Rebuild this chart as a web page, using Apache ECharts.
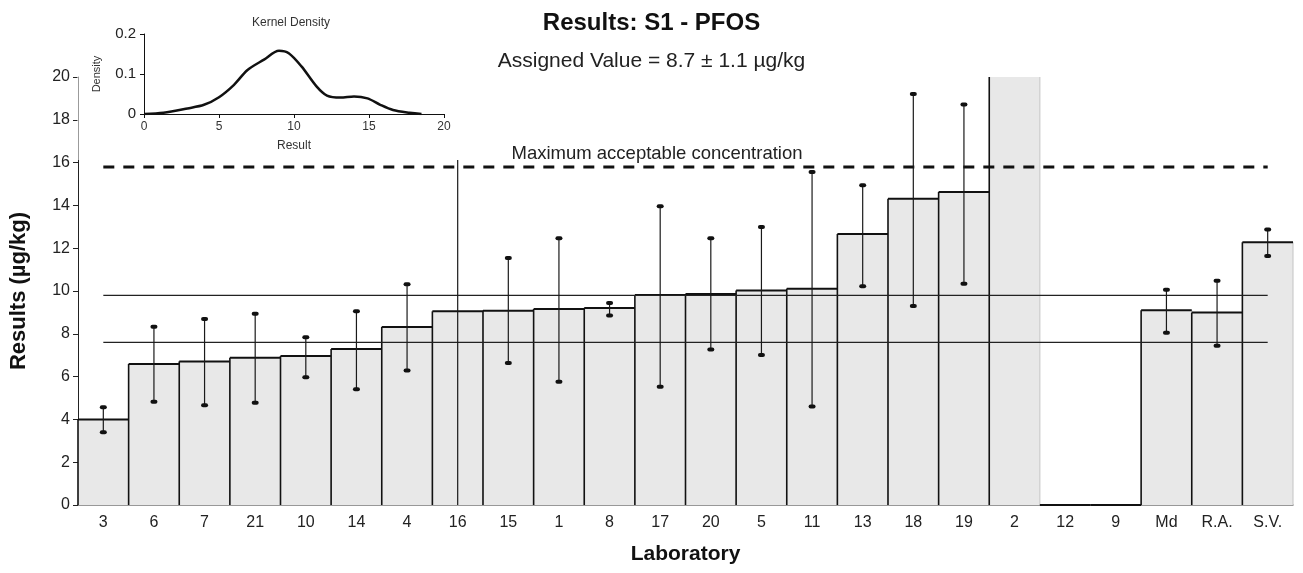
<!DOCTYPE html>
<html>
<head>
<meta charset="utf-8">
<script src="https://cdn.jsdelivr.net/npm/echarts@6/dist/echarts.min.js"></script>
<style>
  html, body { margin: 0; padding: 0; background: #ffffff; }
  #chart { width: 1303px; height: 573px; }
</style>
</head>
<body>
<div id="chart"></div>
<script>
// Laboratory codes, in the plotted order (lowest to highest result), then summary columns
const labs = ['3', '6', '7', '21', '10', '14', '4', '16', '15', '1', '8', '17', '20', '5', '11', '13', '18', '19', '2', '12', '9', 'Md', 'R.A.', 'S.V.'];

// Reported results (µg/kg); lab 2 is off scale, labs 12 and 9 reported nothing quantifiable
const results = [4.0, 6.59, 6.71, 6.88, 6.96, 7.29, 8.32, 9.05, 9.08, 9.16, 9.21, 9.81, 9.86, 10.02, 10.11, 12.66, 14.31, 14.63, 24.0, 0, 0, 9.10, 8.99, 12.28];

// Expanded uncertainty interval of each result (null = none reported)
const uncLow  = [3.40, 4.83, 4.66, 4.78, 5.97, 5.41, 6.28, -0.95, 6.64, 5.76, 8.85, 5.53, 7.27, 7.01, 4.60, 10.22, 9.30, 10.34, null, null, null, 8.05, 7.44, 11.64];
const uncHigh = [4.57, 8.33, 8.69, 8.94, 7.84, 9.05, 10.31, 19.05, 11.54, 12.46, 9.44, 13.96, 12.46, 12.99, 15.56, 14.94, 19.21, 18.72, null, null, null, 10.06, 10.48, 12.87];

// Assigned value and its uncertainty, plus the regulatory limit
const assignedValue = 8.7;
const assignedUnc = 1.1;
const maxAcceptable = 15.8;

// Main value axis range
const yMin = 0;
const yMax = 20;
const yStep = 2;

// Kernel density estimate of the results (inset)
const kdeX = [0, 1.3, 2.9, 4.0, 5.0, 6.0, 6.9, 8.0, 9.0, 9.65, 10.5, 11.5, 12.2, 13.1, 14.0, 14.9, 15.75, 16.6, 17.7, 18.5];
const kdeY = [0, 0.003, 0.014, 0.023, 0.042, 0.073, 0.110, 0.136, 0.158, 0.152, 0.119, 0.069, 0.046, 0.041, 0.044, 0.039, 0.023, 0.010, 0.003, 0];

const FONT = '"Liberation Sans", Arial, Helvetica, sans-serif';

const barData = labs.map((l, i) => [i, results[i]]);
const errData = [];
labs.forEach((l, i) => {
  if (uncLow[i] !== null && uncHigh[i] !== null) errData.push([i, uncLow[i], uncHigh[i]]);
});
const lowerLine = labs.map(() => +(assignedValue - assignedUnc).toFixed(2));
const upperLine = labs.map(() => +(assignedValue + assignedUnc).toFixed(2));
const limitLine = labs.map(() => maxAcceptable);
const kdeData = kdeX.map((x, i) => [x, kdeY[i]]);

// Adjacent bars: grey fill, black left edge and top (forming a step outline)
function renderBar(params, api) {
  const i = api.value(0);
  const raw = api.value(1);
  const clipped = raw > yMax;
  const v = Math.min(raw, yMax);
  const w = api.size([1, 0])[0];
  const base = api.coord([i, 0]);
  const top = api.coord([i, v]);
  const x0 = base[0] - w / 2;
  const x1 = base[0] + w / 2;
  const children = [
    { type: 'rect', shape: { x: x0, y: top[1], width: w, height: base[1] - top[1] },
      style: { fill: '#e8e8e8' } },
    { type: 'line', shape: { x1: x1, y1: base[1], x2: x1, y2: top[1] },
      style: { stroke: '#c4c4c4', lineWidth: 1 } },
    { type: 'line', shape: { x1: x0, y1: base[1], x2: x0, y2: top[1] },
      style: { stroke: '#111', lineWidth: 1.6 } }
  ];
  if (!clipped) {
    children.push({ type: 'line', shape: { x1: x0, y1: top[1], x2: x1, y2: top[1] },
      style: { stroke: '#111', lineWidth: 2 } });
  }
  return { type: 'group', children };
}

// Vertical uncertainty bars with small rounded caps
function renderErr(params, api) {
  const i = api.value(0);
  const lo = api.value(1);
  const hi = api.value(2);
  const p0 = api.coord([i, Math.max(lo, yMin)]);
  const p1 = api.coord([i, Math.min(hi, yMax)]);
  const children = [
    { type: 'line', shape: { x1: p0[0], y1: p0[1], x2: p1[0], y2: p1[1] },
      style: { stroke: '#1a1a1a', lineWidth: 1.2 } }
  ];
  const cap = (p) => ({ type: 'rect', shape: { x: p[0] - 3.5, y: p[1] - 2, width: 7, height: 4, r: 2 },
    style: { fill: '#111' } });
  if (lo >= yMin) children.push(cap(p0));
  if (hi <= yMax) children.push(cap(p1));
  return { type: 'group', children };
}

const chart = echarts.init(document.getElementById('chart'), null, { renderer: 'canvas' });

chart.setOption({
  animation: false,
  backgroundColor: '#ffffff',
  textStyle: { fontFamily: FONT },
  title: [
    { text: 'Results: S1 - PFOS', left: 'center', top: 6,
      textStyle: { fontFamily: FONT, fontSize: 24, fontWeight: 'bold', color: '#111' } },
    { text: 'Assigned Value = ' + assignedValue + ' ± ' + assignedUnc + ' µg/kg', left: 'center', top: 46,
      textStyle: { fontFamily: FONT, fontSize: 21, fontWeight: 'normal', color: '#222' } },
    { text: 'Kernel Density', left: 286, textAlign: 'center', top: 12, z: 30,
      textStyle: { fontFamily: FONT, fontSize: 12, fontWeight: 'normal', color: '#333' } }
  ],
  grid: [
    { left: 78, right: 10, top: 77, bottom: 68 },
    { left: 144, width: 300, top: 34, height: 80, z: 30 }
  ],
  xAxis: [
    {
      type: 'category', gridIndex: 0, data: labs,
      axisLine: { lineStyle: { color: '#777', width: 1.5 } },
      axisTick: { length: 4, lineStyle: { color: '#444' } },
      axisLabel: { fontFamily: FONT, fontSize: 16, color: '#222', margin: 10 },
      name: 'Laboratory', nameLocation: 'middle', nameGap: 39,
      nameTextStyle: { fontFamily: FONT, fontSize: 21, fontWeight: 'bold', color: '#111' }
    },
    {
      type: 'value', gridIndex: 1, min: 0, max: 20, interval: 5, z: 30,
      splitLine: { show: false },
      axisLine: { lineStyle: { color: '#111', width: 1 } },
      axisTick: { show: true, length: 4, lineStyle: { color: '#111' } },
      axisLabel: { fontFamily: FONT, fontSize: 12, color: '#333', margin: 7 },
      name: 'Result', nameLocation: 'middle', nameGap: 26,
      nameTextStyle: { fontFamily: FONT, fontSize: 12, color: '#333' }
    }
  ],
  yAxis: [
    {
      type: 'value', gridIndex: 0, min: yMin, max: yMax, interval: yStep,
      splitLine: { show: false },
      axisLine: { show: true, lineStyle: { color: '#222', width: 1 } },
      axisTick: { show: true, length: 5, lineStyle: { color: '#222' } },
      axisLabel: { fontFamily: FONT, fontSize: 16, color: '#222', margin: 8 },
      name: 'Results (µg/kg)', nameLocation: 'middle', nameGap: 48, nameRotate: 90,
      nameTextStyle: { fontFamily: FONT, fontSize: 22, fontWeight: 'bold', color: '#111' }
    },
    {
      type: 'value', gridIndex: 1, min: 0, max: 0.2, interval: 0.1, z: 30,
      splitLine: { show: false },
      axisLine: { show: true, lineStyle: { color: '#111', width: 1 } },
      axisTick: { show: true, length: 4, lineStyle: { color: '#111' } },
      axisLabel: { fontFamily: FONT, fontSize: 15, color: '#222', margin: 8 },
      name: 'Density', nameLocation: 'middle', nameGap: 42, nameRotate: 90,
      nameTextStyle: { fontFamily: FONT, fontSize: 11, color: '#333' }
    }
  ],
  graphic: [
    // white backing panel of the inset, lying over the upper left of the plot
    { type: 'rect', z: 10, shape: { x: 80, y: 0, width: 386, height: 160 },
      style: { fill: '#ffffff' } },
    { type: 'rect', z: 10, shape: { x: 77, y: 76, width: 3, height: 84 },
      style: { fill: '#ffffff', opacity: 0.55 } },
    { type: 'text', z: 10, x: 657, y: 154,
      style: { text: 'Maximum acceptable concentration', fill: '#222',
        font: '18.5px ' + FONT, textAlign: 'center', textVerticalAlign: 'middle',
        align: 'center', verticalAlign: 'middle' } }
  ],
  series: [
    { type: 'custom', name: 'Results', xAxisIndex: 0, yAxisIndex: 0, z: 2,
      renderItem: renderBar, data: barData },
    { type: 'line', name: 'Lower', xAxisIndex: 0, yAxisIndex: 0, z: 3, data: lowerLine,
      symbol: 'none', lineStyle: { color: '#222', width: 1.2 } },
    { type: 'line', name: 'Upper', xAxisIndex: 0, yAxisIndex: 0, z: 3, data: upperLine,
      symbol: 'none', lineStyle: { color: '#222', width: 1.2 } },
    { type: 'line', name: 'Limit', xAxisIndex: 0, yAxisIndex: 0, z: 3, data: limitLine,
      symbol: 'none', lineStyle: { color: '#111', width: 3, type: [11, 9] } },
    { type: 'custom', name: 'Uncertainty', xAxisIndex: 0, yAxisIndex: 0, z: 4,
      renderItem: renderErr, data: errData },
    { type: 'line', name: 'Density', xAxisIndex: 1, yAxisIndex: 1, z: 30, data: kdeData,
      symbol: 'none', smooth: 0.3, lineStyle: { color: '#111', width: 2.5 } }
  ]
});
</script>
</body>
</html>
